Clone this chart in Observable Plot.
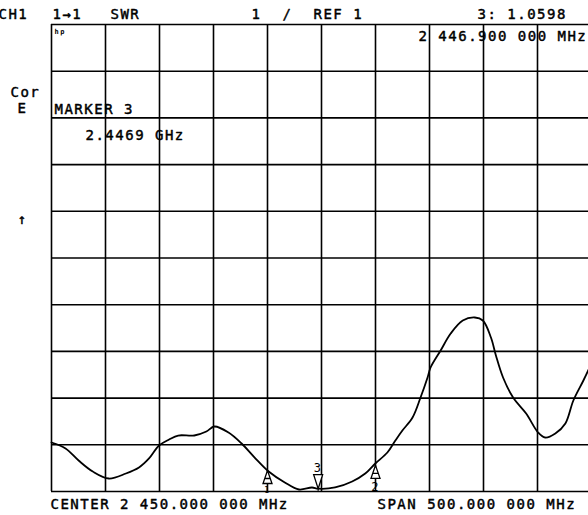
<!DOCTYPE html>
<html><head><meta charset="utf-8">
<script src="https://cdn.jsdelivr.net/npm/d3@7"></script>
<script src="https://cdn.jsdelivr.net/npm/@observablehq/plot@0.6"></script>
<style>body{margin:0;background:#fff;overflow:hidden}</style>
</head><body><div id="chart"></div>
<script>
// Sweep frequency (MHz) and SWR trace values read from the display
const freq = [2200, 2213.0, 2225.1, 2238.2, 2253.1, 2268.9, 2281.0, 2290.3, 2299.6, 2308.9, 2317.3, 2332.2, 2343.4, 2350.8, 2363.9, 2376.0, 2388.1, 2401.1, 2416.0, 2429.1, 2441.2, 2446.9, 2462.6, 2478.4, 2490.5, 2499.8, 2511.0, 2518.4, 2524.9, 2534.3, 2541.7, 2548.2, 2551.0, 2560.3, 2569.6, 2580.8, 2592.0, 2599.4, 2606.9, 2611.5, 2618.1, 2627.4, 2639.5, 2650.6, 2657.1, 2666.5, 2675.8, 2683.2, 2692.5, 2699.1];
const swr = [2.049, 1.921, 1.664, 1.428, 1.278, 1.385, 1.514, 1.707, 1.985, 2.113, 2.199, 2.199, 2.285, 2.392, 2.263, 2.028, 1.728, 1.428, 1.193, 1.043, 1.086, 1.0598, 1.086, 1.214, 1.385, 1.600, 1.835, 2.092, 2.306, 2.585, 3.013, 3.441, 3.655, 4.019, 4.383, 4.662, 4.726, 4.662, 4.298, 3.912, 3.441, 3.013, 2.670, 2.263, 2.156, 2.242, 2.456, 2.949, 3.377, 3.698];

// Markers
const markerFreq = [2400, 2500];
const markerSwr = [1.45, 1.56];
const markerLabel = ["1", "2"];
const activeFreq = [2446.9];
const activeSwr = [1.0598];
const activeLabel = ["3"];

// Grid ticks
const xTicks = d3.range(2200, 2701, 50);
const yTicks = d3.range(1, 12, 1);

// Annotation texts
const hdrCh = "CH1", hdrPort = "1→1", hdrFmt = "SWR", hdrScale = "1", hdrSlash = "/", hdrRef = "REF 1";
const hdrMkr = "3: 1.0598", hdrMkrFreq = "2 446.900 000 MHz";
const txtCor = "Cor", txtE = "E", txtArrow = "↑", txtHp = "hp";
const txtMarker = "MARKER 3", txtMarkerVal = "2.4469 GHz";
const txtCenter = "CENTER 2 450.000 000 MHz", txtSpan = "SPAN 500.000 000 MHz";

const rows = freq.map((f, i) => ({f, v: swr[i]}));
const mrows = markerFreq.map((f, i) => ({f, v: markerSwr[i], l: markerLabel[i]}));
const arows = activeFreq.map((f, i) => ({f, v: activeSwr[i], l: activeLabel[i]}));

const FONT = "DejaVu Sans Mono";
const L = 51, TOP = 24;
const T = (text, x, y, o = {}) => Plot.text([text], {
  frameAnchor: "top-left", dx: x - L, dy: y - TOP, textAnchor: "start", lineAnchor: "bottom",
  fontFamily: FONT, fontSize: 14, fill: "black", stroke: "black", strokeWidth: 0.45, ...o
});

const up = {draw(c){ c.moveTo(0,0); c.lineTo(4.5,13); c.lineTo(-4.5,13); c.closePath(); c.moveTo(-3,8); c.lineTo(3,8);} };
const down = {draw(c){ c.moveTo(0,0); c.lineTo(4.5,-14); c.lineTo(-4.5,-14); c.closePath(); c.moveTo(0,0); c.lineTo(0,2);} };

const chart = Plot.plot({
  width: 588, height: 515,
  marginLeft: L, marginRight: 0, marginTop: TOP, marginBottom: 24,
  style: `font-family:'${FONT}';font-size:14px;letter-spacing:1.5px;background:#fff;`,
  x: {domain: [2200, 2700], range: [51, 591], axis: null},
  y: {domain: [1, 11], axis: null},
  marks: [
    Plot.ruleX(xTicks, {stroke: "black", strokeWidth: 1.6}),
    Plot.ruleY(yTicks, {stroke: "black", strokeWidth: 1.6}),
    Plot.line(rows, {x: "f", y: "v", stroke: "black", strokeWidth: 1.8, curve: "catmull-rom"}),
    Plot.dot(mrows, {x: "f", y: "v", symbol: up, stroke: "black", fill: "white", strokeWidth: 1.3, r: 5}),
    Plot.dot(arows, {x: "f", y: "v", symbol: down, stroke: "black", fill: "white", strokeWidth: 1.3, r: 5}),
    Plot.text(mrows.filter(d => d.l === "2"), {x: "f", y: "v", text: "l", dy: 22, fontFamily: FONT, fontSize: 12}),
    Plot.text(mrows.filter(d => d.l === "1"), {x: "f", y: "v", text: "l", dy: 20, fontFamily: FONT, fontSize: 8}),
    Plot.text(arows, {x: "f", y: "v", text: "l", dy: -21, fontFamily: FONT, fontSize: 12}),
    T(hdrCh, -2, 18), T(hdrPort, 52, 18), T(hdrFmt, 110, 18), T(hdrScale, 251, 18), T(hdrSlash, 282, 18),
    T(hdrRef, 313, 18), T(hdrMkr, 477, 18),
    T(hdrMkrFreq, 418, 40),
    T(txtHp, 54, 33, {fontSize: 7, fontWeight: "bold", strokeWidth: 0}),
    T(txtCor, 10, 96), T(txtE, 17, 112), T(txtArrow, 17, 223),
    T(txtMarker, 54, 113), T(txtMarkerVal, 85, 139),
    T(txtCenter, 50, 508), T(txtSpan, 377, 508)
  ]
});
document.getElementById("chart").append(chart);
</script>
</body></html>
